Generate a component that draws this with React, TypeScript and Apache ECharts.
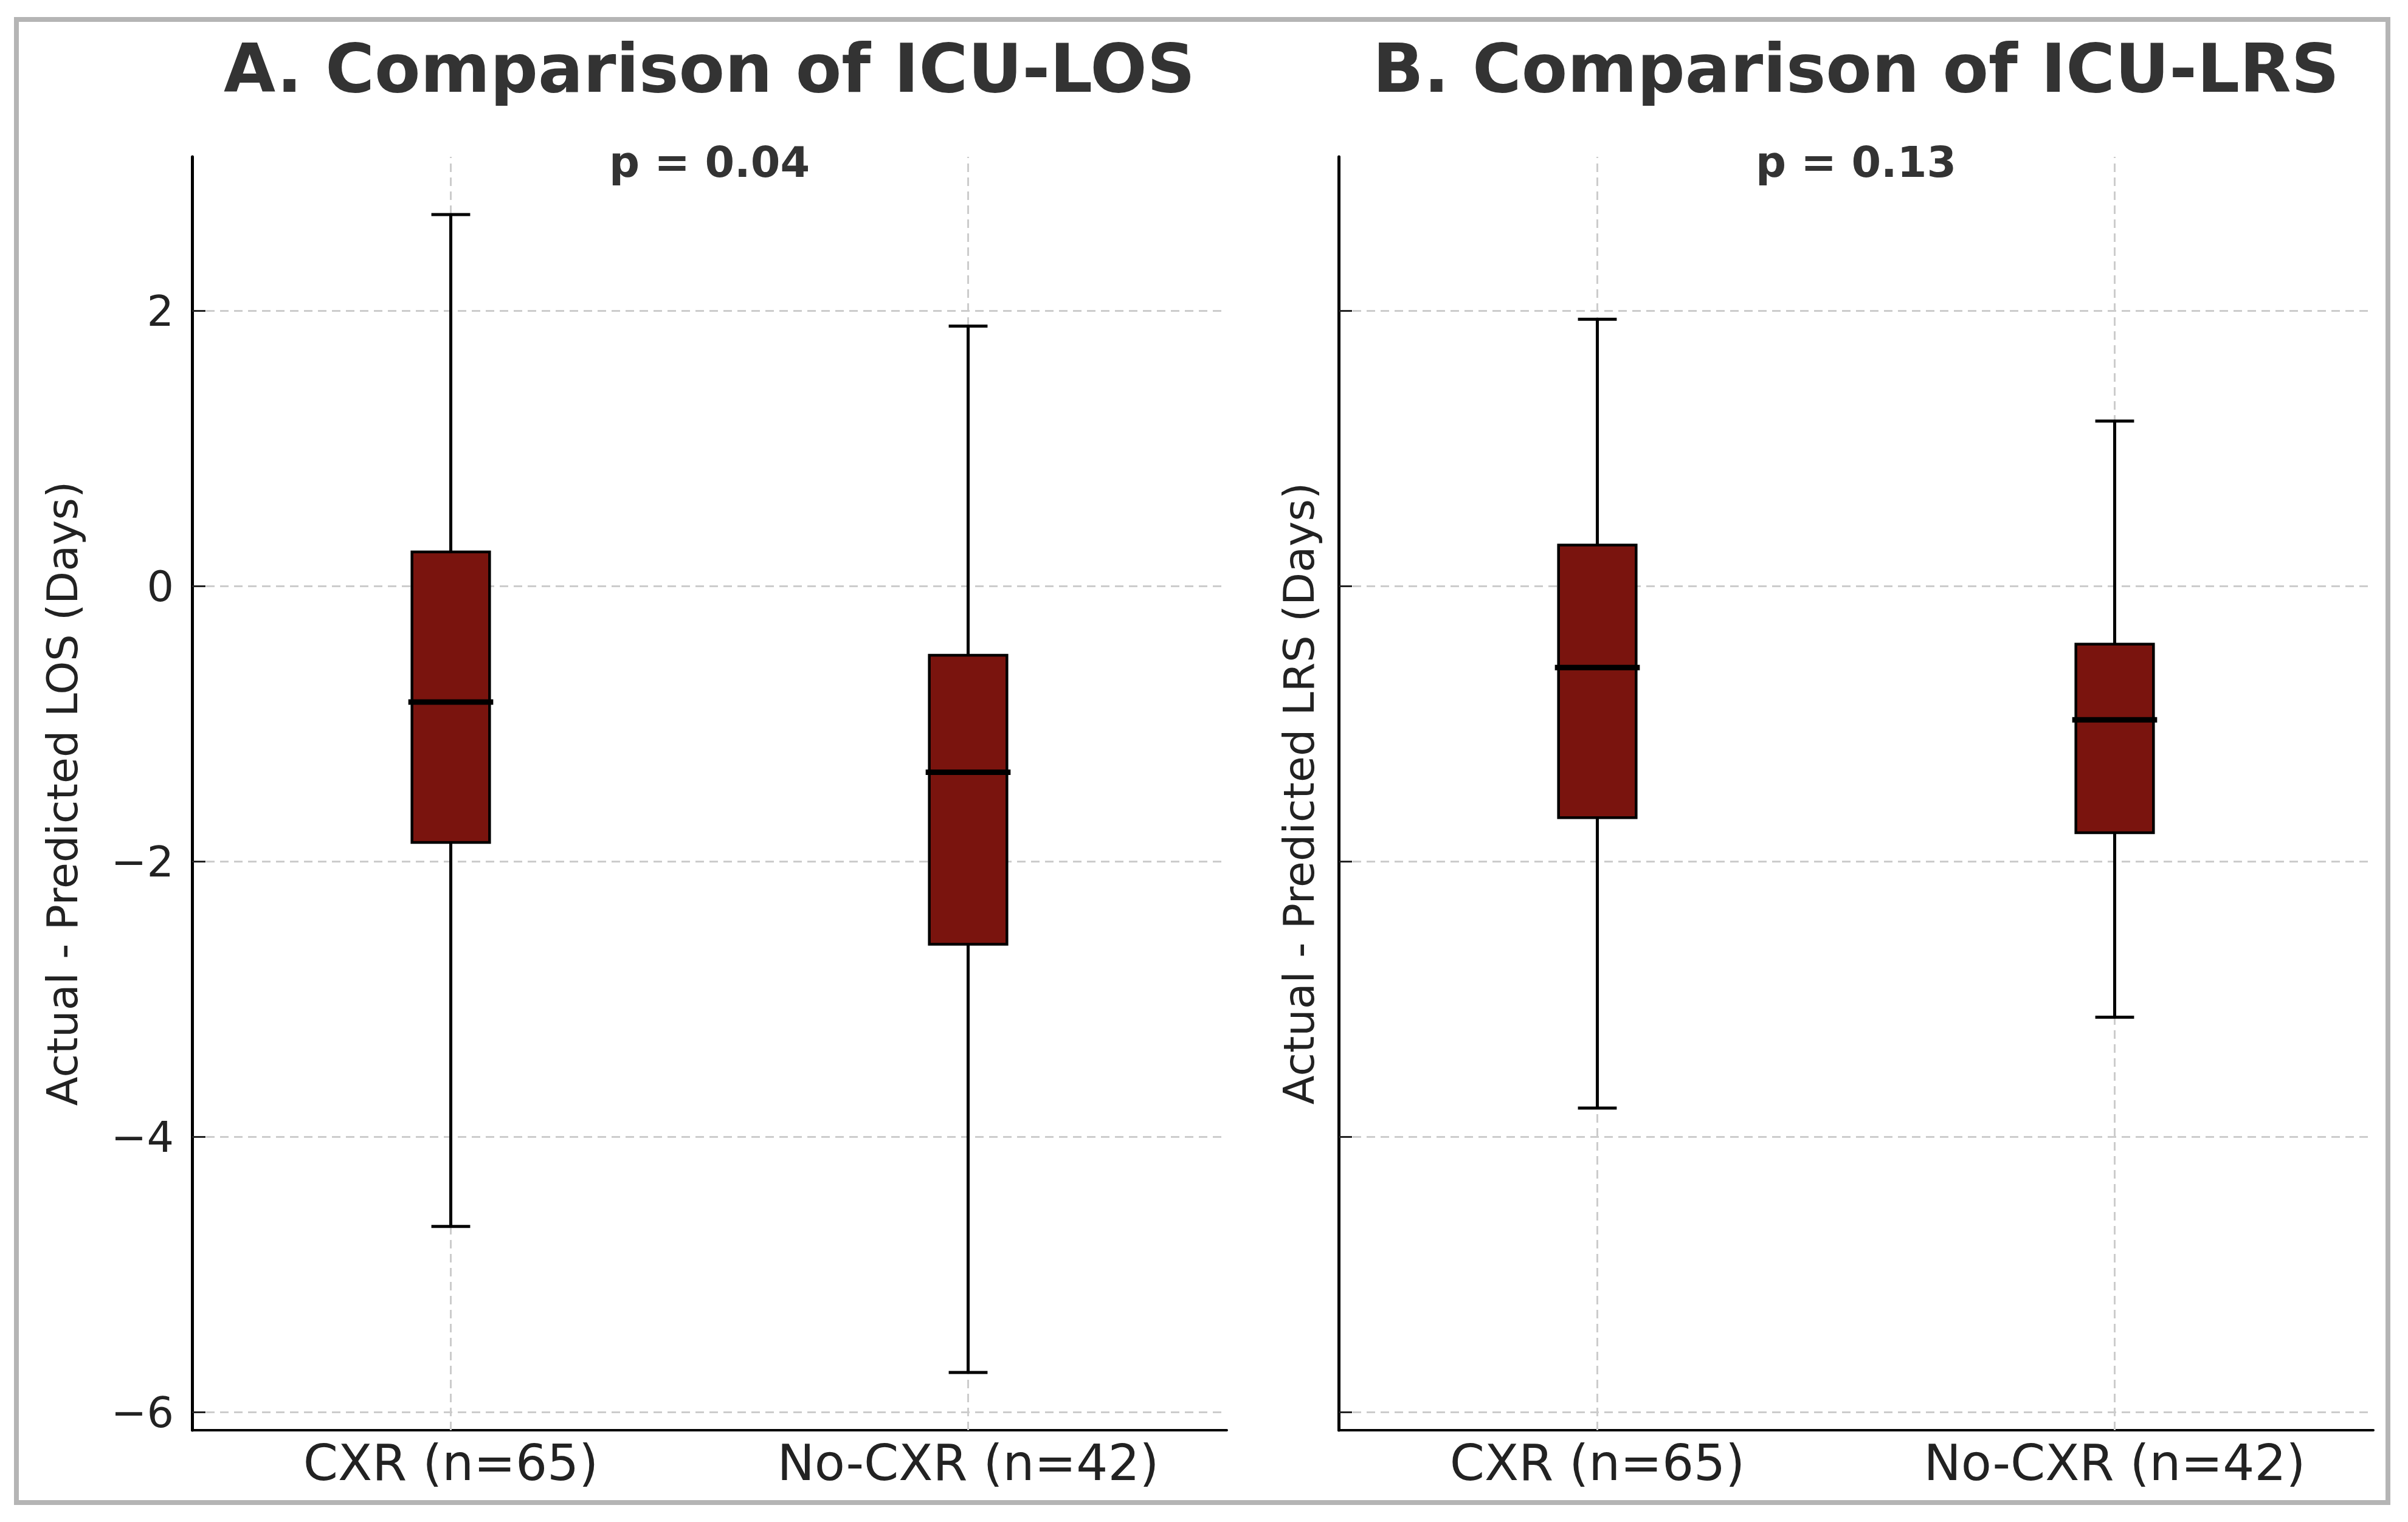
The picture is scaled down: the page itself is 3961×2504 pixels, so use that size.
import React, { useEffect, useRef } from "react";
import * as echarts from "echarts";

// ---- data ----
const categories = ["CXR (n=65)", "No-CXR (n=42)"];
// [lower whisker, Q1, median, Q3, upper whisker]
const losCxr = [-4.65, -1.86, -0.84, 0.25, 2.7];
const losNoCxr = [-5.71, -2.6, -1.35, -0.5, 1.89];
const lrsCxr = [-3.79, -1.68, -0.59, 0.3, 1.94];
const lrsNoCxr = [-3.13, -1.79, -0.97, -0.42, 1.2];
const yTicks = [-6, -4, -2, 0, 2];
const panelTitles = ["A. Comparison of ICU-LOS", "B. Comparison of ICU-LRS"];
const pValues = ["p = 0.04", "p = 0.13"];
const yNames = ["Actual - Predicted LOS (Days)", "Actual - Predicted LRS (Days)"];

const Y_MIN = -6.13;
const Y_MAX = 3.12;

const BOX_FILL = "#7a140e";
const GRID_COLOR = "#cccccc";
const TEXT_DARK = "#222222";
const TITLE_COLOR = "#333333";
const FONT = "DejaVu Sans";

const GRID_LEFTS = [316, 2202];
const GRID_WIDTH = 1702;
const GRID_TOP = 258;
const GRID_HEIGHT = 2095;

function fmtTick(v: number): string {
  return v < 0 ? "\u2212" + Math.abs(v) : String(v);
}

function renderBox(params: any, api: any) {
  const idx = api.value(0);
  const lo = api.coord([idx, api.value(1)]);
  const q1 = api.coord([idx, api.value(2)]);
  const med = api.coord([idx, api.value(3)]);
  const q3 = api.coord([idx, api.value(4)]);
  const hi = api.coord([idx, api.value(5)]);
  const band = api.size([1, 0])[0];
  const bw = band * 0.15;
  const cw = bw * 0.5;
  const cx = lo[0];
  const lineStyle = { stroke: "#000", lineWidth: 5 };
  return {
    type: "group",
    children: [
      { type: "line", shape: { x1: cx, y1: hi[1], x2: cx, y2: q3[1] }, style: lineStyle },
      { type: "line", shape: { x1: cx, y1: q1[1], x2: cx, y2: lo[1] }, style: lineStyle },
      { type: "line", shape: { x1: cx - cw / 2, y1: hi[1], x2: cx + cw / 2, y2: hi[1] }, style: lineStyle },
      { type: "line", shape: { x1: cx - cw / 2, y1: lo[1], x2: cx + cw / 2, y2: lo[1] }, style: lineStyle },
      {
        type: "rect",
        shape: { x: cx - bw / 2, y: q3[1], width: bw, height: q1[1] - q3[1] },
        style: { fill: BOX_FILL, stroke: "#000", lineWidth: 4.5 },
      },
      {
        type: "line",
        shape: { x1: cx - bw / 2 - 6, y1: med[1], x2: cx + bw / 2 + 6, y2: med[1] },
        style: { stroke: "#000", lineWidth: 9 },
      },
    ],
  };
}

function buildOption() {
  const panels = [
    [losCxr, losNoCxr],
    [lrsCxr, lrsNoCxr],
  ];
  const grids = GRID_LEFTS.map((left) => ({
    left,
    top: GRID_TOP,
    width: GRID_WIDTH,
    height: GRID_HEIGHT,
    containLabel: false,
  }));
  const xAxes = [0, 1].map((i) => ({
    type: "category",
    gridIndex: i,
    data: categories,
    boundaryGap: true,
    axisLine: { show: true, onZero: false, lineStyle: { color: "#000", width: 4 } },
    axisTick: { show: false },
    splitLine: { show: false },
    axisLabel: { fontSize: 82, fontFamily: FONT, color: TEXT_DARK, margin: 12 },
  }));
  const yAxes = [0, 1].map((i) => ({
    type: "value",
    gridIndex: i,
    min: Y_MIN,
    max: Y_MAX,
    name: yNames[i],
    nameLocation: "middle",
    nameRotate: 90,
    nameGap: i === 0 ? 178 : 30,
    nameTextStyle: { fontSize: 70, fontFamily: FONT, color: TEXT_DARK },
    axisLine: { show: true, onZero: false, lineStyle: { color: "#000", width: 5 } },
    axisTick: {
      show: true,
      inside: true,
      length: 22,
      customValues: yTicks,
      lineStyle: { color: "#222", width: 3 },
    },
    axisLabel: {
      show: i === 0,
      customValues: yTicks,
      formatter: fmtTick,
      fontSize: 70,
      fontFamily: FONT,
      color: TEXT_DARK,
      margin: 30,
    },
    splitLine: {
      show: true,
      lineStyle: { color: GRID_COLOR, width: 3, type: [14, 9] },
    },
  }));
  const series: any[] = [];
  [0, 1].forEach((i) => {
    series.push({
      type: "line",
      xAxisIndex: i,
      yAxisIndex: i,
      data: [],
      silent: true,
      z: 1,
      markLine: {
        silent: true,
        z: 1,
        symbol: ["none", "none"],
        label: { show: false },
        lineStyle: { color: GRID_COLOR, width: 3, type: [14, 9] },
        data: categories.map((c) => ({ xAxis: c })),
      },
    });
    series.push({
      type: "custom",
      xAxisIndex: i,
      yAxisIndex: i,
      z: 10,
      renderItem: renderBox,
      encode: { x: 0, y: [1, 2, 3, 4, 5] },
      data: panels[i].map((s, k) => [k, ...s]),
    });
  });
  const centers = GRID_LEFTS.map((l) => l + GRID_WIDTH / 2);
  const titles: any[] = [];
  [0, 1].forEach((i) => {
    titles.push({
      text: panelTitles[i],
      left: centers[i],
      top: 58,
      textAlign: "center",
      padding: 0,
      textStyle: {
        fontSize: 110,
        lineHeight: 110,
        fontWeight: "bold",
        fontFamily: FONT,
        color: TITLE_COLOR,
      },
    });
    titles.push({
      text: pValues[i],
      left: centers[i],
      top: 232,
      textAlign: "center",
      padding: 0,
      textStyle: {
        fontSize: 70,
        lineHeight: 70,
        fontWeight: "bold",
        fontFamily: FONT,
        color: TITLE_COLOR,
      },
    });
  });
  return {
    animation: false,
    backgroundColor: "#ffffff",
    title: titles,
    grid: grids,
    xAxis: xAxes,
    yAxis: yAxes,
    series,
    graphic: [
      {
        type: "rect",
        shape: { x: 27, y: 32, width: 3901, height: 2440 },
        style: { fill: "none", stroke: "#b5b5b5", lineWidth: 8 },
        silent: true,
        z: 10,
      },
    ],
  };
}

export default function App() {
  const ref = useRef<HTMLDivElement>(null);
  useEffect(() => {
    document.body.style.margin = "0";
    if (!ref.current) return;
    const chart = echarts.init(ref.current, null, { renderer: "svg" });
    chart.setOption(buildOption() as any);
    return () => chart.dispose();
  }, []);
  return <div ref={ref} style={{ width: 3961, height: 2504 }} />;
}
